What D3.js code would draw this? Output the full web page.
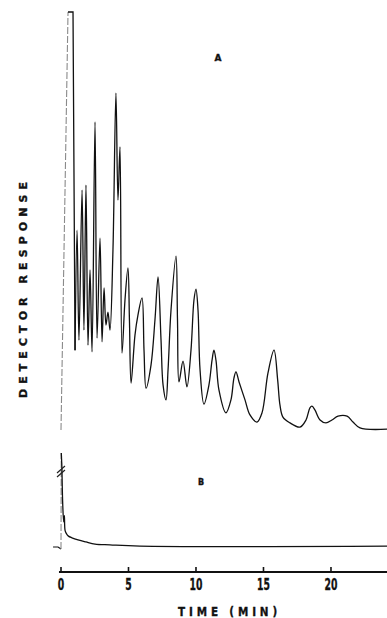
<!DOCTYPE html>
<html>
<head>
<meta charset="utf-8">
<script src="https://cdn.jsdelivr.net/npm/d3@7"></script>
<style>
  html, body { margin: 0; padding: 0; background: #fff; }
  svg { display: block; }
  .lbl { font-family: 'DejaVu Sans', sans-serif; font-weight: bold; fill: #111; stroke: #111; stroke-width: 0.35; }
</style>
</head>
<body>
<svg class="chrom" width="387" height="618"></svg>
<script>
// chromatogram A: [time (min), detector response (% full scale)]
const traceA = [
  [0, 0], [0.52, 100], [0.89, 100], [1.04, 19.1], [1.19, 47.8], [1.33, 21.5], [1.56, 57.4],
  [1.70, 23.9], [1.85, 58.6], [2.00, 20.3], [2.15, 38.3], [2.30, 18.7], [2.52, 73.7],
  [2.67, 22.0], [2.89, 45.9], [3.04, 21.1], [3.19, 34.0], [3.33, 25.1], [3.48, 28.2],
  [3.63, 23.9], [3.85, 43.1], [4.07, 80.6], [4.22, 55.0], [4.37, 67.7], [4.52, 18.4],
  [4.74, 31.1], [4.96, 38.8], [5.07, 26.3], [5.19, 11.2], [5.48, 22.7], [5.70, 27.5],
  [6.00, 31.6], [6.15, 19.1], [6.30, 10.0], [6.67, 15.6], [6.96, 26.3], [7.19, 36.6],
  [7.41, 21.5], [7.56, 10.8], [7.78, 7.2], [7.93, 14.4], [8.15, 28.7], [8.52, 41.6],
  [8.63, 26.3], [8.74, 11.5], [9.04, 16.5], [9.33, 10.3], [9.63, 19.1], [9.85, 31.1],
  [10.00, 33.7], [10.15, 28.7], [10.30, 14.4], [10.59, 6.2], [10.96, 10.8], [11.19, 16.7],
  [11.33, 19.1], [11.48, 16.7], [11.70, 9.6], [12.22, 4.1], [12.59, 7.2], [12.81, 12.4],
  [12.96, 13.9], [13.19, 11.5], [13.63, 7.2], [14.00, 3.6], [14.52, 1.9], [14.89, 4.1],
  [15.33, 13.6], [15.78, 19.1], [16.05, 12.0], [16.22, 6.0], [16.44, 3.1],
  [16.96, 1.7], [17.70, 0.7], [18.15, 2.4], [18.44, 5.3], [18.59, 5.7], [18.81, 4.8],
  [19.19, 2.4], [19.63, 1.7], [20.07, 2.4], [20.52, 3.3], [21.19, 3.3], [21.63, 1.9],
  [22.15, 0.5], [24.15, 0.2]
];

// chromatogram B (blank)
const traceB = [
  [-0.59, 0], [-0.22, 0], [0, -0.5], [0.02, 22.5], [0.07, 18.9], [0.13, 10.0], [0.20, 6.0],
  [0.25, 7.5], [0.30, 4.0], [0.40, 3.2], [0.55, 2.6], [0.81, 2.2], [1.26, 1.7], [1.85, 1.2],
  [2.52, 0.7], [3.63, 0.5], [5.85, 0.2], [24.15, 0.2]
];

const timeTicks = [0, 5, 10, 15, 20];
const traceLabels = ["A", "B"];

const svg = d3.select(".chrom");

const x = d3.scaleLinear().domain([0, 24.15]).range([61, 387]);
const yA = d3.scaleLinear().domain([0, 100]).range([430, 12]);
const yB = d3.scaleLinear().domain([0, 100]).range([547, 129]);

// fast: index of the point the faint pen stroke rises to; lin: end of straight part
function drawTrace(data, y, fast, lin) {
  const straight = d3.line().x(d => x(d[0])).y(d => y(d[1]));
  const smooth = d3.line()
    .x(d => x(d[0]))
    .y(d => y(d[1]))
    .curve(d3.curveCatmullRom.alpha(0.5));
  svg.append("path")
    .attr("d", straight(data.slice(0, fast)))
    .attr("fill", "none").attr("stroke", "#111").attr("stroke-width", 1.2);
  svg.append("path")
    .attr("d", straight(data.slice(fast - 1, fast + 1)))
    .attr("fill", "none")
    .attr("stroke", "#8a8a8a")
    .attr("stroke-width", 1.1)
    .attr("stroke-dasharray", "7,2");
  svg.append("path")
    .attr("d", straight(data.slice(fast, lin + 1)))
    .attr("fill", "none").attr("stroke", "#111").attr("stroke-width", 1.3);
  svg.append("path")
    .attr("d", smooth(data.slice(lin)))
    .attr("fill", "none")
    .attr("stroke", "#111")
    .attr("stroke-width", 1.3)
    .attr("stroke-linejoin", "round");
}

drawTrace(traceA, yA, 1, 3);
drawTrace(traceB, yB, 3, 4);

// break mark on the off-scale peak of B
svg.append("path")
  .attr("d", "M57,477 L65,470 M57,473 L65,466")
  .attr("fill", "none")
  .attr("stroke", "#222")
  .attr("stroke-width", 1.2);

// time axis
const axisY = 572;
svg.append("line")
  .attr("x1", x(-0.15)).attr("x2", 387)
  .attr("y1", axisY).attr("y2", axisY)
  .attr("stroke", "#111").attr("stroke-width", 2.2);

svg.selectAll(".tick")
  .data(timeTicks)
  .join("line")
  .attr("class", "tick")
  .attr("x1", d => x(d)).attr("x2", d => x(d))
  .attr("y1", axisY - 5).attr("y2", axisY)
  .attr("stroke", "#111").attr("stroke-width", 1.6);

svg.selectAll(".ticklbl")
  .data(timeTicks)
  .join("text")
  .attr("class", "ticklbl lbl")
  .attr("transform", d => `translate(${x(d)},590) scale(0.62,1)`)
  .attr("text-anchor", "middle")
  .attr("font-size", 15)
  .text(d => d);

svg.append("text")
  .attr("class", "lbl")
  .attr("transform", "translate(178,616) scale(0.8,1)")
  .attr("font-size", 13)
  .attr("textLength", 124)
  .attr("lengthAdjust", "spacing")
  .text("TIME (MIN)");

svg.append("text")
  .attr("class", "lbl")
  .attr("transform", "translate(27,398) rotate(-90)")
  .attr("font-size", 11)
  .attr("textLength", 216)
  .attr("lengthAdjust", "spacing")
  .text("DETECTOR RESPONSE");

// trace labels
svg.append("text").attr("class", "lbl")
  .attr("x", 218).attr("y", 61).attr("text-anchor", "middle")
  .attr("font-size", 9).text(traceLabels[0]);
svg.append("text").attr("class", "lbl")
  .attr("x", 201).attr("y", 485).attr("text-anchor", "middle")
  .attr("font-size", 8).text(traceLabels[1]);
</script>
</body>
</html>
